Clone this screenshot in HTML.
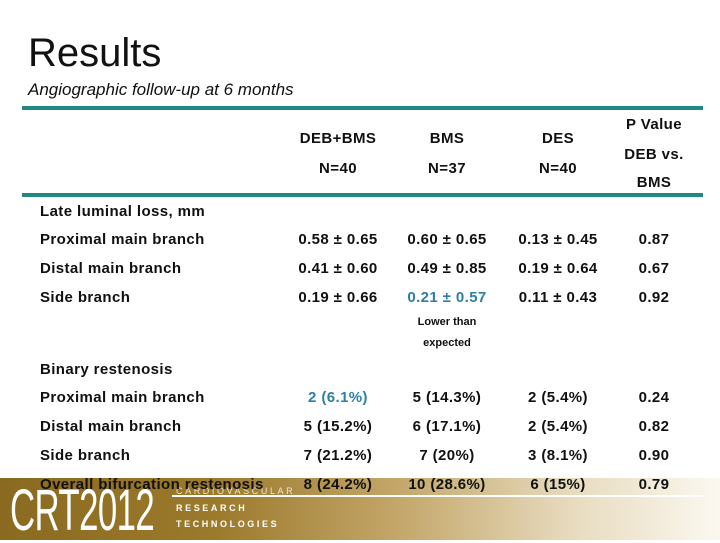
<!DOCTYPE html>
<html><head><meta charset="utf-8"><style>
body{margin:0;width:720px;height:540px;position:relative;overflow:hidden;background:#fff;font-family:"Liberation Sans",Arial,sans-serif;color:#111}
.a{position:absolute;white-space:nowrap}
.c{transform:translateX(-50%)}
.t{font-size:15px;line-height:16px;font-weight:bold;letter-spacing:0.4px}
.b{color:#2e7fa8}
.rule{position:absolute;left:22px;width:681px;height:4px;background:#1f8a84}
</style></head><body>
<div class="a" style="left:28px;top:30px;font-size:40px;line-height:46px">Results</div>
<div class="a" style="left:28px;top:80px;font-size:17px;font-style:italic">Angiographic follow-up at 6 months</div>
<div class="rule" style="top:106px"></div>
<div class="rule" style="top:193px"></div>

<div class="a c t" style="left:338px;top:131px">DEB+BMS</div>
<div class="a c t" style="left:338px;top:161px">N=40</div>
<div class="a c t" style="left:447px;top:131px">BMS</div>
<div class="a c t" style="left:447px;top:161px">N=37</div>
<div class="a c t" style="left:558px;top:131px">DES</div>
<div class="a c t" style="left:558px;top:161px">N=40</div>
<div class="a c t" style="left:654px;top:117px">P Value</div>
<div class="a c t" style="left:654px;top:147px">DEB vs.</div>
<div class="a c t" style="left:654px;top:175px">BMS</div>

<div class="a t" style="left:40px;top:204px">Late luminal loss, mm</div>
<div class="a t" style="left:40px;top:362px">Binary restenosis</div>
<div class="a c" style="left:447px;top:316px;font-size:11px;font-weight:bold">Lower than</div>
<div class="a c" style="left:447px;top:337px;font-size:11px;font-weight:bold">expected</div>

<div class="a" style="left:0;top:478px;width:720px;height:62px;background:linear-gradient(90deg,#8a6a20 0%,#9c7a2c 30%,#c3a669 55%,#e8dcc0 80%,#fbf8f0 100%)"></div>
<div class="a" style="left:172px;top:495px;width:531px;height:2px;background:#fff"></div>
<div class="a" style="left:10px;top:482px;font-size:58px;line-height:58px;color:#fff;transform:scaleX(0.6);transform-origin:left;letter-spacing:-1px">CRT2012</div>
<div class="a" style="left:176px;top:486px;font-size:9px;color:#f0e6d0;letter-spacing:2.6px">CARDIOVASCULAR</div>
<div class="a" style="left:176px;top:503px;font-size:9px;color:#fff;letter-spacing:2.6px;font-weight:bold">RESEARCH</div>
<div class="a" style="left:176px;top:519px;font-size:9px;color:#fff;letter-spacing:2.6px;font-weight:bold">TECHNOLOGIES</div>

<div id="rows"></div>
<script>
const labels=["Proximal main branch","Distal main branch","Side branch","Proximal main branch","Distal main branch","Side branch","Overall bifurcation restenosis"];
const debBms=["0.58 ± 0.65","0.41 ± 0.60","0.19 ± 0.66","2 (6.1%)","5 (15.2%)","7 (21.2%)","8 (24.2%)"];
const bms=["0.60 ± 0.65","0.49 ± 0.85","0.21 ± 0.57","5 (14.3%)","6 (17.1%)","7 (20%)","10 (28.6%)"];
const des=["0.13 ± 0.45","0.19 ± 0.64","0.11 ± 0.43","2 (5.4%)","2 (5.4%)","3 (8.1%)","6 (15%)"];
const pv=["0.87","0.67","0.92","0.24","0.82","0.90","0.79"];
const rowTops=[232,261,290,390,419,448,477];
const host=document.getElementById('rows');
function cell(txt,x,y,center,blue,name){
  const d=document.createElement('div');
  d.className='a t'+(center?' c':'')+(blue?' b':'');
  d.style.left=x+'px';d.style.top=y+'px';d.textContent=txt;
  
  
  host.appendChild(d);
}
labels.forEach((l,i)=>{
  const y=rowTops[i];
  cell(l,40,y,false,false,'row-label');
  cell(debBms[i],338,y,true,i===3,'cell-deb-bms');
  cell(bms[i],447,y,true,i===2,'cell-bms');
  cell(des[i],558,y,true,false,'cell-des');
  cell(pv[i],654,y,true,false,'cell-p-value');
});
</script>
</body></html>
